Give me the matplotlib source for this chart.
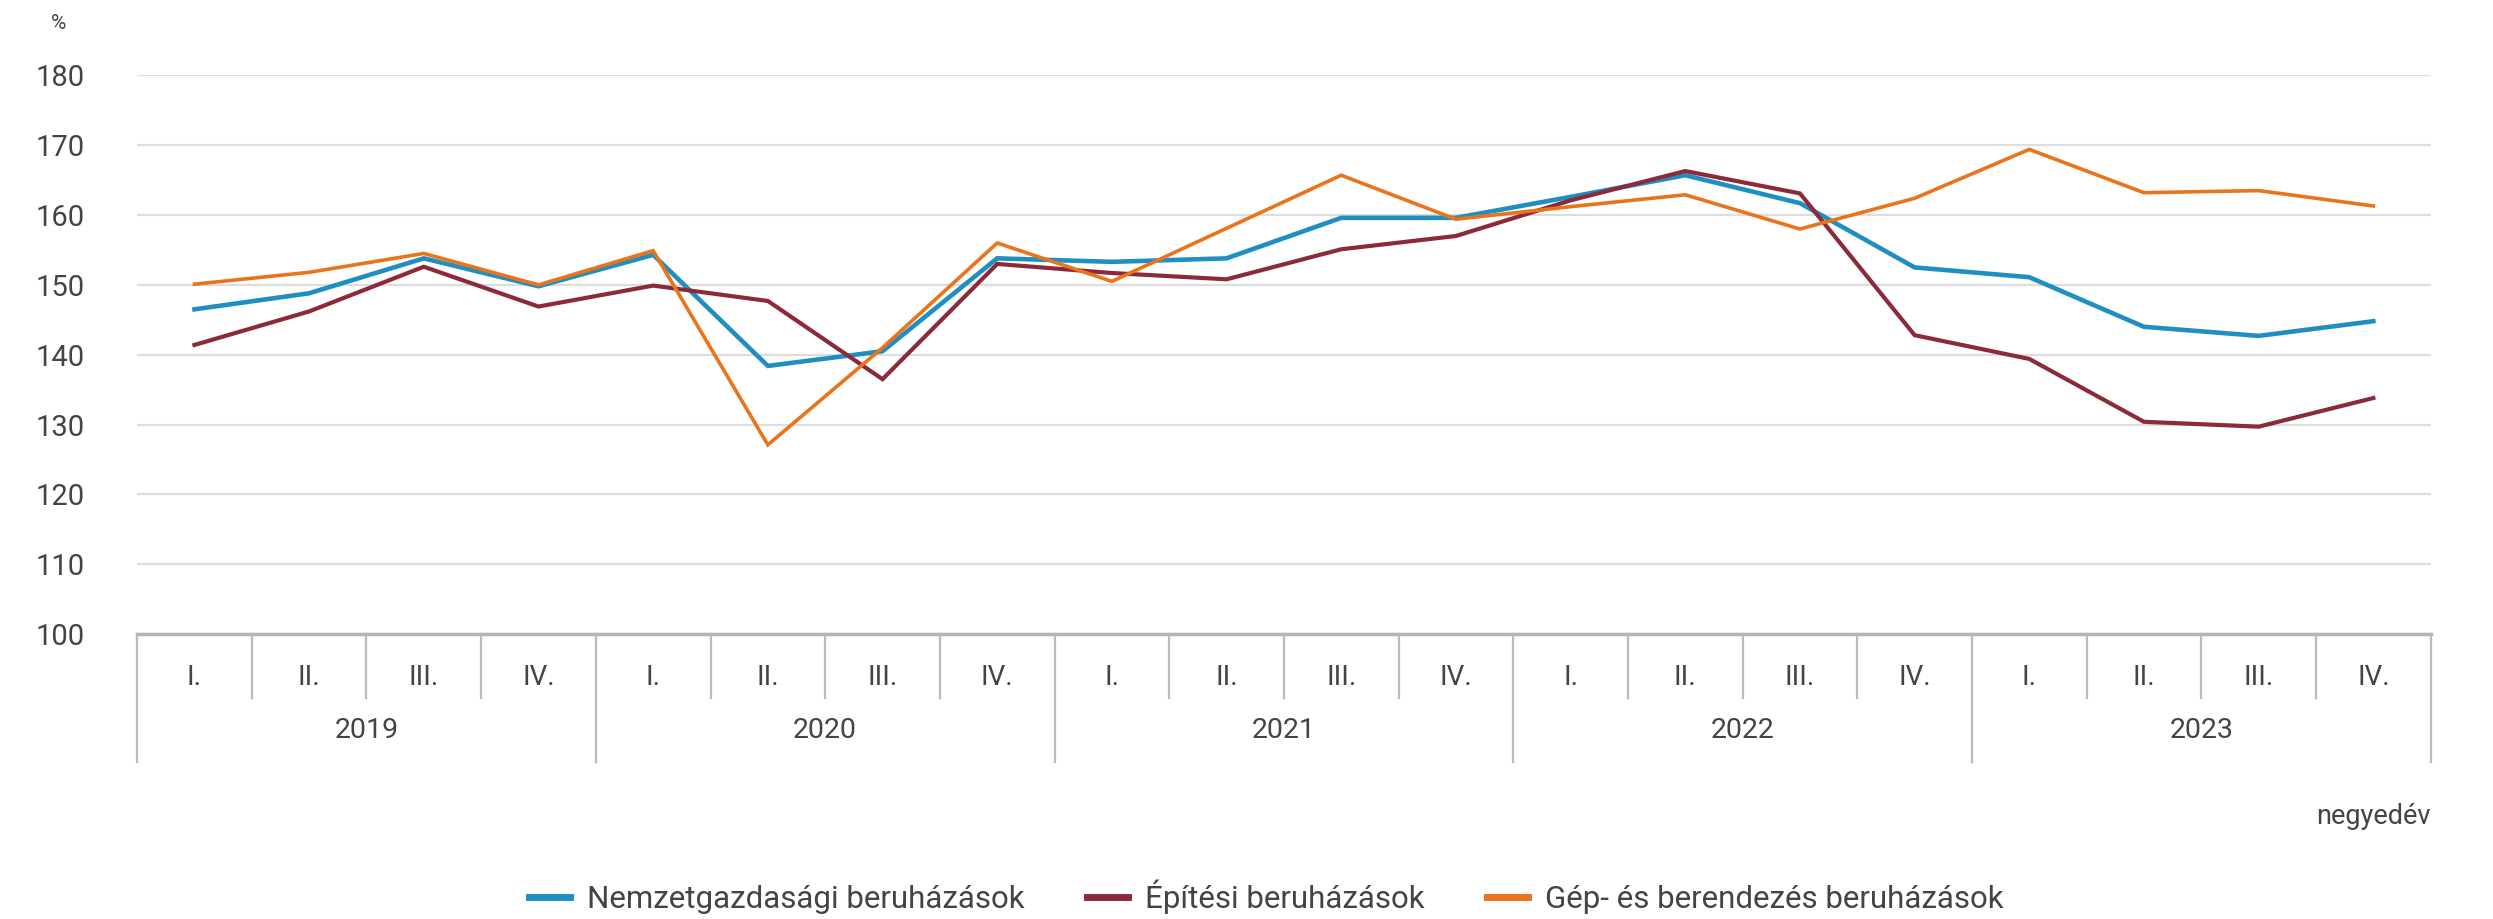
import matplotlib
matplotlib.use("Agg")
import matplotlib.pyplot as plt

plt.rcParams['font.family'] = ['Roboto', 'DejaVu Sans']

# Quarterly volume index, %
years = ['2019', '2020', '2021', '2022', '2023']
quarters = ['I.', 'II.', 'III.', 'IV.']
nemzetgazdasagi = [146.5, 148.8, 153.8, 149.8, 154.3, 138.4, 140.5, 153.8, 153.3, 153.8,
                   159.6, 159.6, 162.6, 165.7, 161.7, 152.5, 151.1, 144.0, 142.7, 144.8]
epitesi = [141.4, 146.2, 152.6, 146.9, 149.9, 147.7, 136.5, 153.0, 151.7, 150.8,
           155.1, 157.0, 162.1, 166.3, 163.1, 142.8, 139.4, 130.4, 129.7, 133.8]
gep = [150.1, 151.8, 154.5, 150.0, 154.9, 127.1, 141.0, 156.0, 150.5, 158.1,
       165.7, 159.4, 161.2, 162.9, 158.0, 162.4, 169.4, 163.2, 163.5, 161.3]
series_names = ['Nemzetgazdasági beruházások', 'Építési beruházások', 'Gép- és berendezés beruházások']
colors = ['#1f8fc2', '#8c2a3a', '#e9741c']
widths = [3.3, 3.0, 2.6]

n = len(years) * len(quarters)
x = [i + 0.5 for i in range(n)]

fig = plt.figure(figsize=(24.93, 9.19), dpi=100)
ax = fig.add_axes([0.055, 0.310, 0.920, 0.608])

for vals, name, c, lw in zip([nemzetgazdasagi, epitesi, gep], series_names, colors, widths):
    ax.plot(x, vals, color=c, lw=lw, label=name, solid_joinstyle='miter')

ax.set_xlim(0, n)
ax.set_ylim(100, 180)
ax.set_yticks(range(100, 181, 10))
ax.grid(axis='y', color='#dddddd', lw=1.6)
ax.set_axisbelow(True)
for s in ['top', 'right', 'left']:
    ax.spines[s].set_visible(False)
ax.spines['bottom'].set_color('#b5b5b5')
ax.spines['bottom'].set_linewidth(2.5)
ax.tick_params(axis='y', length=0, pad=38, labelsize=21, labelcolor='#444444')
ax.tick_params(axis='x', length=0)
ax.set_xticks([])

# category table under the axis
tr = ax.get_xaxis_transform()
q_bottom, y_bottom = -0.1145, -0.229
for i in range(n + 1):
    full = i % 4 == 0
    ax.plot([i, i], [0, y_bottom if full else q_bottom], transform=tr,
            color='#bbbbbb', lw=1.6, clip_on=False)
for i in range(n):
    ax.text(i + 0.5, -0.077, quarters[i % 4], transform=tr, ha='center', va='center',
            fontsize=20, color='#444444')
for j, yr in enumerate(years):
    ax.text(j * 4 + 2, -0.172, yr, transform=tr, ha='center', va='center',
            fontsize=20.5, color='#444444')

fig.text(0.975, 0.111, 'negyedév', ha='right', va='center', fontsize=19.5, color='#444444')
fig.text(0.0235, 0.974, '%', ha='center', va='center', fontsize=15, color='#444444')

leg = fig.legend(loc='center', bbox_to_anchor=(0.508, 0.024), ncol=3, frameon=False,
                 fontsize=22.5, handlelength=1.3, handletextpad=0.55, columnspacing=2.0)
for h in leg.get_lines():
    h.set_linewidth(5)
for t in leg.get_texts():
    t.set_color('#444444')

fig.savefig('out.png', dpi=100, facecolor='white')
